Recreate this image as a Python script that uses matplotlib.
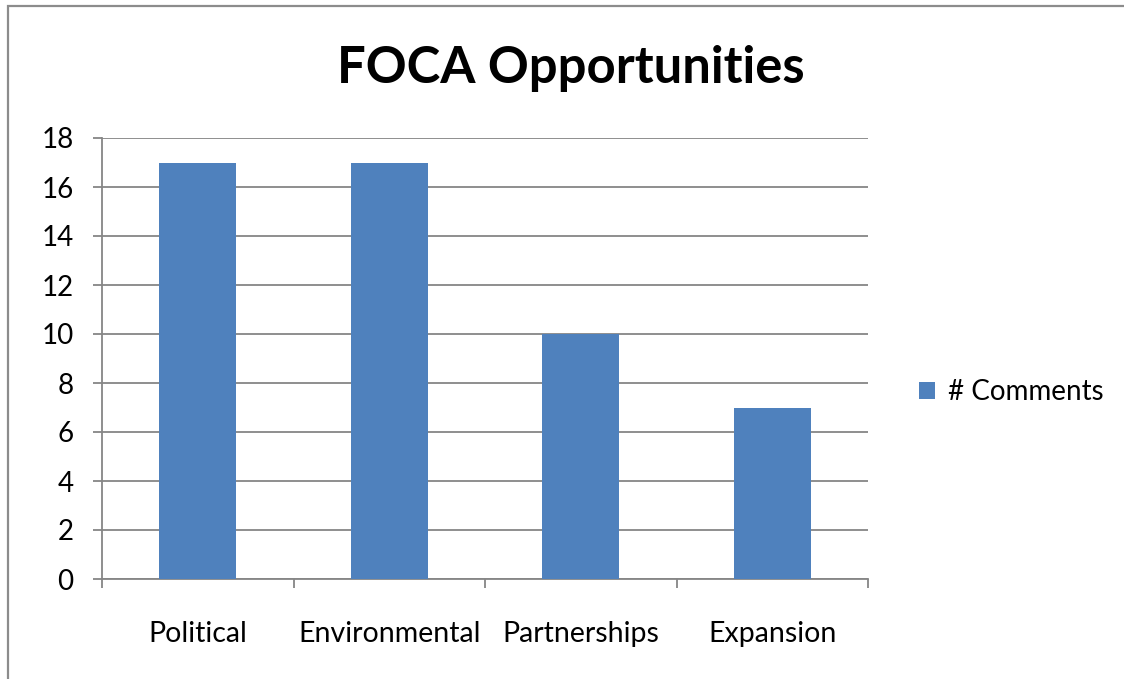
import matplotlib.pyplot as plt
from matplotlib.patches import Rectangle

plt.rcParams["font.family"] = ["Lato", "DejaVu Sans"]

categories = ["Political", "Environmental", "Partnerships", "Expansion"]
comments = [17, 17, 10, 7]
y_ticks = [0, 2, 4, 6, 8, 10, 12, 14, 16, 18]

BAR_BLUE = "#4F81BD"
GRID_GRAY = "#868686"


def main():
    fig = plt.figure(figsize=(11.24, 6.79), dpi=100)
    fig.patch.set_facecolor("white")

    # outer chart border (runs off right and bottom edges)
    fig.patches.append(Rectangle((8 / 1124, -0.05), 1.2, 1 - 6 / 679 + 0.05,
                                 transform=fig.transFigure, fill=False,
                                 edgecolor="#8C8C8C", linewidth=1.6))

    ax = fig.add_axes([102 / 1124, 1 - 579 / 679, 766 / 1124, 441 / 679])
    x = list(range(len(categories)))
    ax.bar(x, comments, width=0.4, color=BAR_BLUE, zorder=3,
           label="# Comments")

    ax.set_xlim(-0.5, len(categories) - 0.5)
    ax.set_ylim(0, 18)
    ax.set_yticks(y_ticks)
    ax.yaxis.grid(True, color=GRID_GRAY, linewidth=1.3, zorder=0)
    ax.set_axisbelow(True)

    ax.set_xticks(x)
    ax.set_xticklabels(categories, fontsize=20.5)
    ax.tick_params(axis="x", length=0, pad=30)
    ax.set_xticks([i - 0.5 for i in range(len(categories) + 1)], minor=True)
    ax.tick_params(axis="x", which="minor", length=6.5, width=1.3,
                   color=GRID_GRAY, direction="out")
    ax.tick_params(axis="y", length=6.5, width=1.3, color=GRID_GRAY,
                   labelsize=20, pad=14)

    for side in ["top", "right"]:
        ax.spines[side].set_visible(False)
    for side in ["left", "bottom"]:
        ax.spines[side].set_color(GRID_GRAY)
        ax.spines[side].set_linewidth(1.3)

    fig.text(571 / 1124, 1 - 68 / 679, "FOCA Opportunities", fontsize=36.5,
             fontweight="bold", ha="center", va="center")

    fig.legend(loc="center left", bbox_to_anchor=(894 / 1124, 1 - 392 / 679),
               frameon=False, fontsize=20, handlelength=0.58, handleheight=0.58,
               handletextpad=0.45)

    fig.savefig("out.png", dpi=100, facecolor="white")
    plt.close(fig)


if __name__ == "__main__":
    main()
